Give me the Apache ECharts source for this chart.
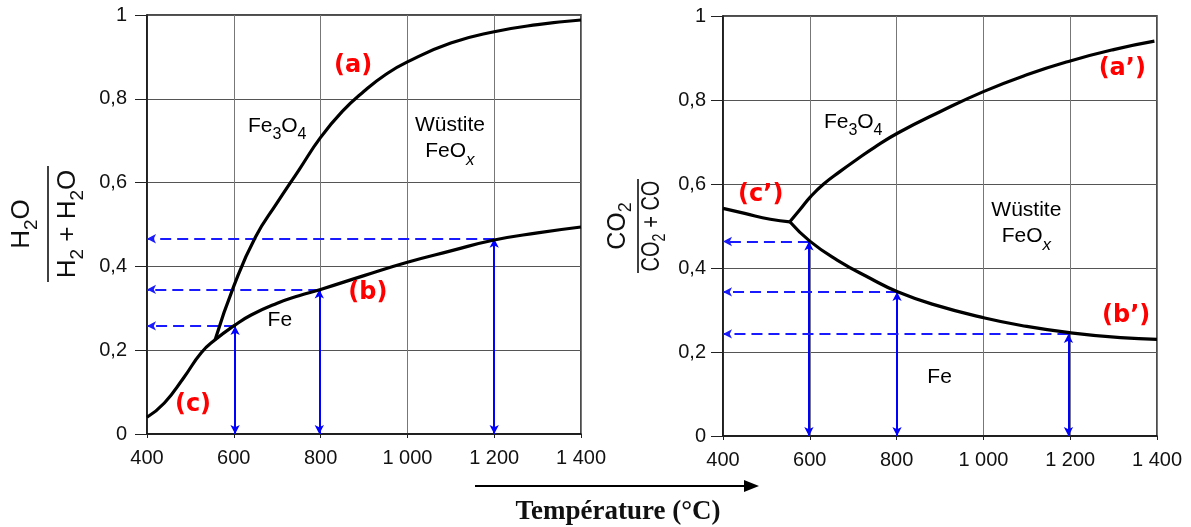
<!DOCTYPE html>
<html><head><meta charset="utf-8">
<script src="https://cdn.jsdelivr.net/npm/echarts@6/dist/echarts.min.js"></script>
<style>html,body{margin:0;padding:0;background:#fff}#c{width:1191px;height:527px}</style>
</head><body><div id="c"></div>
<script>
// ---- axes ----
const xMin = 400, xMax = 1400, xStep = 200;
const yMin = 0, yMax = 1, yStep = 0.2;
const xTickLabels = {400:'400',600:'600',800:'800',1000:'1 000',1200:'1 200',1400:'1 400'};
const yTickLabels = {0:'0','0.2':'0,2','0.4':'0,4','0.6':'0,6','0.8':'0,8',1:'1'};

// ---- left diagram (H2O / (H2 + H2O)) ----
const leftA_T = [557, 600, 650, 700, 750, 800, 850, 900, 950, 1000, 1100, 1200, 1300, 1400];
const leftA_V = [0.225, 0.353, 0.470, 0.552, 0.630, 0.708, 0.770, 0.818, 0.858, 0.888, 0.933, 0.960, 0.977, 0.988];
const leftBC_T = [400, 440, 485, 525, 557, 600, 640, 700, 750, 800, 900, 1000, 1100, 1200, 1300, 1400];
const leftBC_V = [0.040, 0.074, 0.135, 0.194, 0.225, 0.258, 0.284, 0.312, 0.330, 0.345, 0.378, 0.410, 0.437, 0.463, 0.480, 0.494];
const leftGuideT = [603, 797, 1200];
const leftGuideV = [0.258, 0.345, 0.466];
const leftLabelText = ['{r|(a)}', '{r|(b)}', '{r|(c)}', '{n|Fe}{s|3}{n|O}{s|4}', '{n|Wüstite}\n{n|FeO}{si|x}', '{n|Fe}'];
const leftLabelT = [875, 909, 506, 700, 1098, 706];
const leftLabelV = [0.88, 0.337, 0.07, 0.729, 0.70, 0.265];

// ---- right diagram (CO2 / (CO2 + CO)) ----
const rightC_T = [400, 450, 509, 554];
const rightC_V = [0.542, 0.530, 0.516, 0.510];
const rightA_T = [554, 578, 602, 632, 670, 705, 750, 804, 900, 1000, 1100, 1200, 1300, 1394];
const rightA_V = [0.510, 0.540, 0.570, 0.600, 0.630, 0.656, 0.688, 0.722, 0.772, 0.820, 0.860, 0.893, 0.920, 0.940];
const rightB_T = [554, 600, 663, 740, 801, 882, 1003, 1100, 1199, 1316, 1400];
const rightB_V = [0.510, 0.464, 0.419, 0.375, 0.344, 0.314, 0.281, 0.261, 0.246, 0.234, 0.230];
const rightGuideT = [598, 801, 1196];
const rightGuideV = [0.463, 0.343, 0.243];
const rightLabelText = ['{r|(a’)}', '{r|(b’)}', '{r|(c’)}', '{n|Fe}{s|3}{n|O}{s|4}', '{n|Wüstite}\n{n|FeO}{si|x}', '{n|Fe}'];
const rightLabelT = [1320, 1329, 487, 700, 1099, 899];
const rightLabelV = [0.874, 0.286, 0.574, 0.742, 0.50, 0.133];

const zip = (a, b) => a.map((v, i) => [v, b[i]]);

const chart = echarts.init(document.getElementById('c'));
const fontSans = 'Liberation Sans, Arial, sans-serif';
const rich = {
  r: {fontFamily: 'DejaVu Sans', fontSize: 24, fontWeight: 'bold', color: '#ff0000', textBorderWidth: 0},
  n: {fontFamily: fontSans, fontSize: 21, color: '#000', lineHeight: 26, verticalAlign: 'top', textBorderWidth: 0},
  s: {fontFamily: fontSans, fontSize: 16, color: '#000', lineHeight: 16, verticalAlign: 'top', padding: [11,0,0,0], textBorderWidth: 0},
  si: {fontFamily: fontSans, fontSize: 17, fontStyle: 'italic', color: '#000', lineHeight: 16, verticalAlign: 'top', padding: [11,0,0,0], textBorderWidth: 0}
};

function mkX(gi) {
  return {
    type: 'value', gridIndex: gi, min: xMin, max: xMax, interval: xStep,
    axisLine: {show: true, onZero: false, lineStyle: {color: '#111', width: 1.5}},
    axisTick: {show: true, length: 4, lineStyle: {color: '#222'}},
    splitLine: {show: true, lineStyle: {color: '#777', width: 1}},
    axisLabel: {margin: 14, fontSize: 20, fontFamily: fontSans, color: '#111',
      formatter: v => xTickLabels[v] || ''}
  };
}
function mkY(gi, margin) {
  return {
    type: 'value', gridIndex: gi, min: yMin, max: yMax, interval: yStep,
    axisLine: {show: true, onZero: false, lineStyle: {color: '#111', width: 1.5}},
    axisTick: {show: true, length: 12, lineStyle: {color: '#222'}},
    splitLine: {show: true, lineStyle: {color: '#555', width: 1}},
    axisLabel: {margin: margin, fontSize: 20, fontFamily: fontSans, color: '#111',
      formatter: v => yTickLabels[String(+v.toFixed(1))] || ''}
  };
}
function curve(gi, T, V) {
  return {type: 'line', xAxisIndex: gi, yAxisIndex: gi, data: zip(T, V), smooth: 0.5,
    showSymbol: false, silent: true, z: 5, lineStyle: {color: '#000', width: 3.2}};
}
function guides(gi, T, V) {
  const data = [];
  T.forEach((t, i) => {
    data.push([{coord: [t, V[i]], symbol: 'none', lineStyle: {type: [11, 6], color: '#1a1aff', width: 2}},
               {coord: [xMin, V[i]], symbol: 'arrow', symbolSize: [7, 9]}]);
    data.push([{coord: [t, 0], symbol: 'arrow', symbolSize: [7, 9], lineStyle: {type: 'solid', color: '#0000ff', width: 2}},
               {coord: [t, V[i]], symbol: 'arrow', symbolSize: [7, 9]}]);
  });
  return {type: 'line', xAxisIndex: gi, yAxisIndex: gi, data: [], silent: true,
    markLine: {silent: true, animation: false, label: {show: false}, data: data, z: 3}};
}
function labels(gi, texts, T, V) {
  return {type: 'scatter', xAxisIndex: gi, yAxisIndex: gi, symbolSize: 1, z: 10, silent: true,
    itemStyle: {color: 'transparent', opacity: 1},
    data: T.map((t, i) => ({value: [t, V[i]], label: {formatter: texts[i]}})),
    label: {show: true, position: 'inside', align: 'center', verticalAlign: 'middle', color: '#000',
      textBorderWidth: 0, textBorderColor: 'transparent', rich: rich}};
}

function fraction(cx, cy, num, den, numOff, denOff, half, fs, denScale) {
  return {
    type: 'group', x: cx, y: cy, rotation: Math.PI / 2, silent: true,
    children: [
      {type: 'text', style: {text: num, x: 0, y: numOff, align: 'center', verticalAlign: 'middle', rich: fs}},
      {type: 'line', shape: {x1: -half, y1: 0, x2: half, y2: 0}, style: {stroke: '#111', lineWidth: 1.6}},
      {type: 'text', scaleX: denScale, style: {text: den, x: 0, y: denOff, align: 'center', verticalAlign: 'middle', rich: fs}}
    ]
  };
}
const fracL = {
  n: {fontFamily: fontSans, fontSize: 26, fill: '#111', lineHeight: 30, verticalAlign: 'top'},
  s: {fontFamily: fontSans, fontSize: 19, fill: '#111', lineHeight: 19, verticalAlign: 'top', padding: [13,0,0,0]}
};
const fracR = {
  n: {fontFamily: fontSans, fontSize: 25, fill: '#111', lineHeight: 29, verticalAlign: 'top'},
  s: {fontFamily: fontSans, fontSize: 18, fill: '#111', lineHeight: 18, verticalAlign: 'top', padding: [12,0,0,0]}
};

chart.setOption({
  animation: false,
  backgroundColor: '#fff',
  grid: [
    {left: 147, top: 15, width: 434, height: 419, show: true, borderColor: '#111', borderWidth: 1.5, backgroundColor: 'transparent'},
    {left: 723, top: 16, width: 434, height: 420, show: true, borderColor: '#111', borderWidth: 1.5, backgroundColor: 'transparent'}
  ],
  xAxis: [mkX(0), mkX(1)],
  yAxis: [mkY(0, 20), mkY(1, 17)],
  series: [
    guides(0, leftGuideT, leftGuideV),
    guides(1, rightGuideT, rightGuideV),
    curve(0, leftA_T, leftA_V),
    curve(0, leftBC_T, leftBC_V),
    curve(1, rightC_T, rightC_V),
    curve(1, rightA_T, rightA_V),
    curve(1, rightB_T, rightB_V),
    labels(0, leftLabelText, leftLabelT, leftLabelV),
    labels(1, rightLabelText, rightLabelT, rightLabelV)
  ],
  graphic: [
    fraction(48, 224, '{n|H}{s|2}{n|O}', '{n|H}{s|2}{n| + H}{s|2}{n|O}', -24, 22, 58, fracL, 1),
    fraction(638, 226, '{n|CO}{s|2}', '{n|CO}{s|2}{n| + CO}', -18, 16, 47, fracR, 0.8),
    {type: 'line', silent: true, shape: {x1: 475, y1: 486, x2: 748, y2: 486}, style: {stroke: '#000', lineWidth: 2}},
    {type: 'polygon', silent: true, shape: {points: [[744, 480], [759, 486], [744, 492]]}, style: {fill: '#000'}},
    {type: 'text', silent: true, x: 618, y: 512, style: {text: 'Température (°C)', align: 'center', verticalAlign: 'middle',
      fontFamily: 'Liberation Serif, Times New Roman, serif', fontWeight: 'bold', fontSize: 27, fill: '#111'}}
  ]
});
</script></body></html>
